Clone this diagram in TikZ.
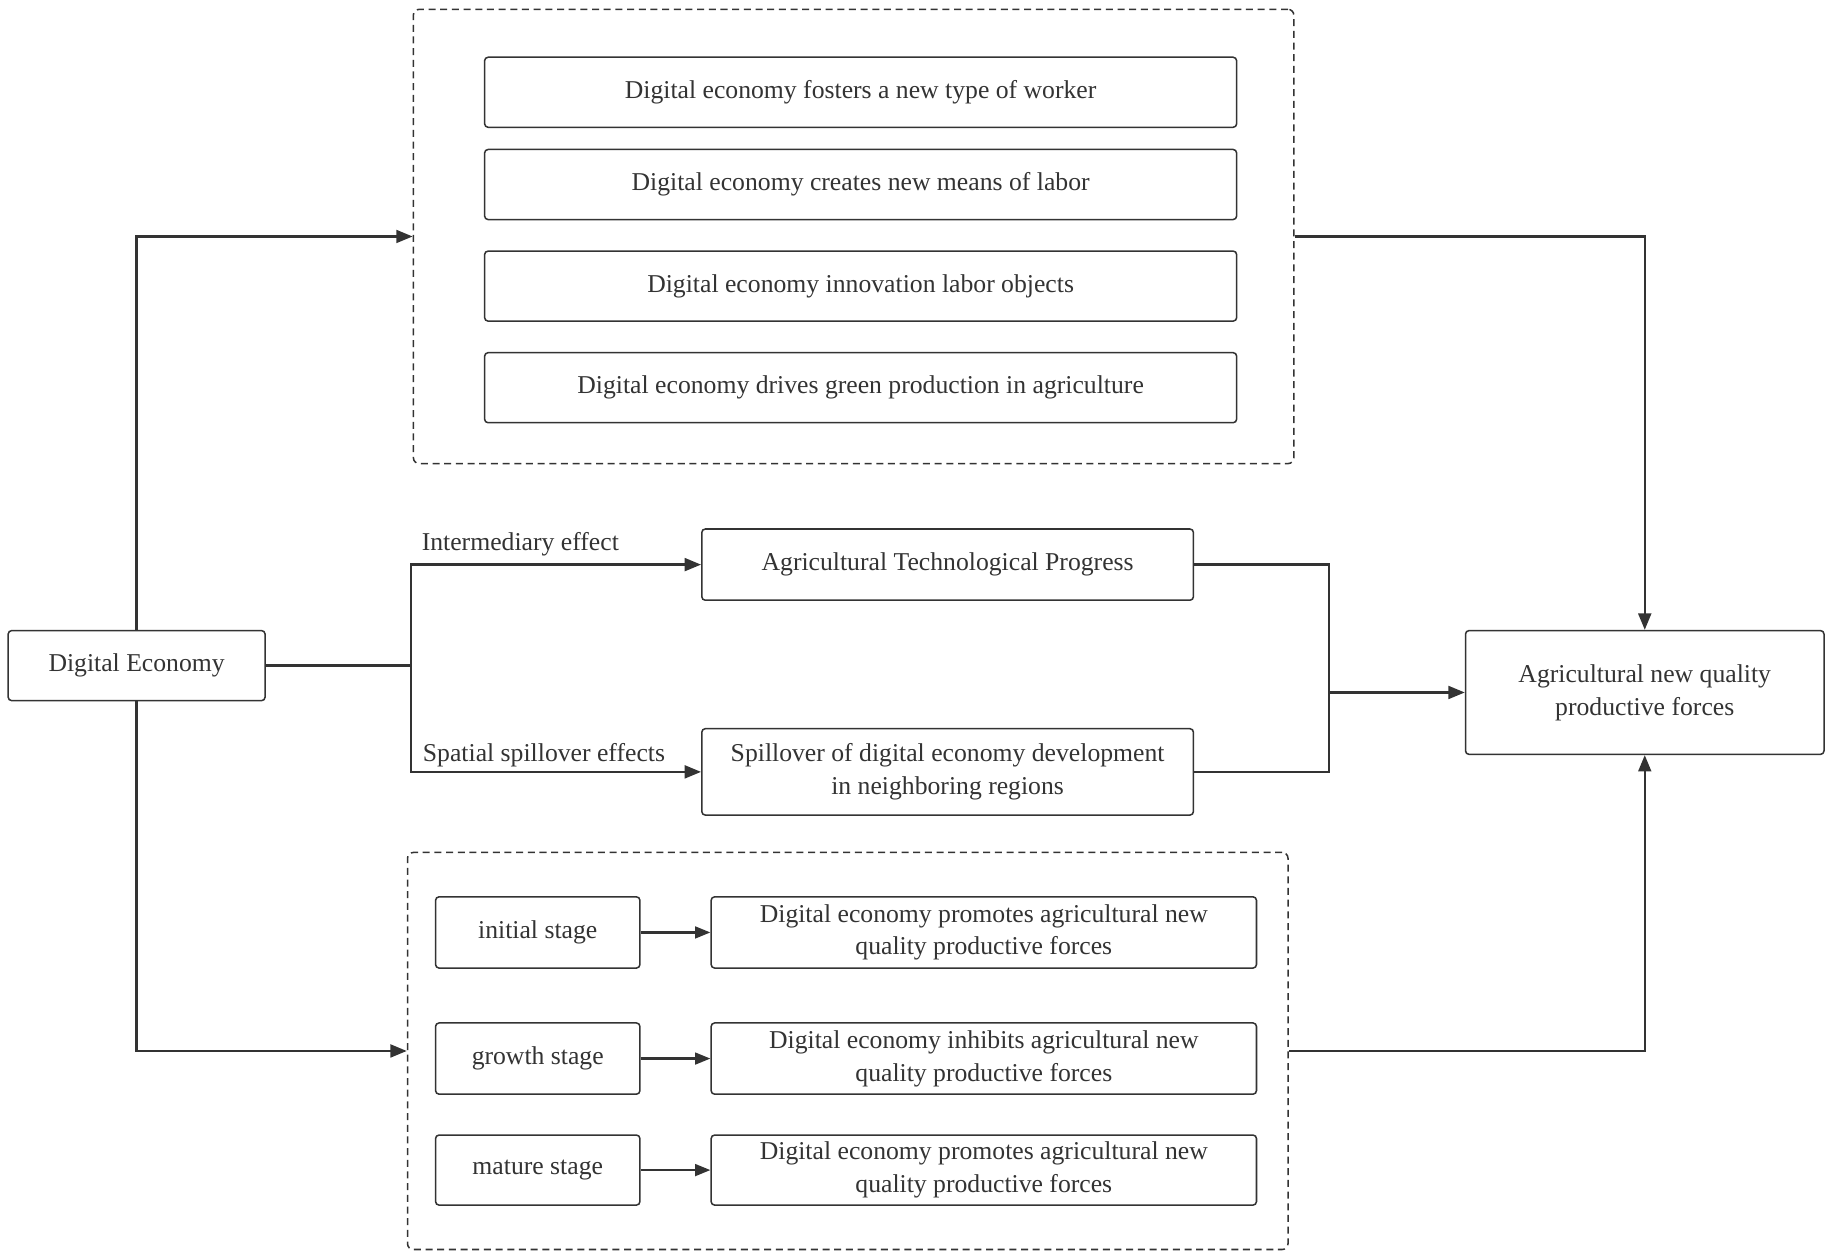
\documentclass[tikz,border=0pt]{standalone}
\usepackage{fontspec}
\setmainfont{Liberation Serif}
\usetikzlibrary{arrows.meta}
\definecolor{ink}{HTML}{333333}
\begin{document}
\begin{tikzpicture}[x=1pt,y=-1pt,
  every node/.style={font=\fontsize{22}{28}\selectfont, text=ink},
  box/.style={draw=ink, line width=1.3pt, rounded corners=3pt, fill=white, align=center, inner sep=0pt},
  dashbox/.style={draw=ink, line width=1.3pt, dash pattern=on 6pt off 4pt, rounded corners=5pt, inner sep=0pt},
  conn/.style={draw=ink, line width=2pt, -{Triangle[length=14pt,width=11pt]}},
  line/.style={draw=ink, line width=2pt},
  small/.style={draw=ink, line width=2pt, -{Triangle[length=13pt,width=10pt]}},
  lbl/.style={anchor=base west, inner sep=0pt}
]
\useasboundingbox (0,0) rectangle (1568,1077);

% top group
\node[dashbox, minimum width=754pt, minimum height=389pt] (dtop) at (731,202.5) {};
\node[box, minimum width=644pt, minimum height=60pt] (b1) at (737,79) {Digital economy fosters a new type of worker};
\node[box, minimum width=644pt, minimum height=60pt] (b2) at (737,158) {Digital economy creates new means of labor};
\node[box, minimum width=644pt, minimum height=60pt] (b3) at (737,245) {Digital economy innovation labor objects};
\node[box, minimum width=644pt, minimum height=60pt] (b4) at (737,332) {Digital economy drives green production in agriculture};

% left and right
\node[box, minimum width=220pt, minimum height=60pt] (de) at (117,570) {Digital Economy};
\node[box, minimum width=307pt, minimum height=106pt] (anq) at (1408.5,593) {Agricultural new quality\\productive forces};

% middle
\node[box, minimum width=421pt, minimum height=61pt] (atp) at (811.5,483.5) {Agricultural Technological Progress};
\node[box, minimum width=421pt, minimum height=74pt] (spill) at (811.5,661) {Spillover of digital economy development\\in neighboring regions};

% bottom group
\node[dashbox, minimum width=754pt, minimum height=340pt] (dbot) at (726,900) {};
\node[box, minimum width=175pt, minimum height=61pt] (s1) at (460.5,798.5) {initial stage};
\node[box, minimum width=467pt, minimum height=61pt] (r1) at (842.5,798.5) {Digital economy promotes agricultural new\\quality productive forces};
\node[box, minimum width=175pt, minimum height=61pt] (s2) at (460.5,906.5) {growth stage};
\node[box, minimum width=467pt, minimum height=61pt] (r2) at (842.5,906.5) {Digital economy inhibits agricultural new\\quality productive forces};
\node[box, minimum width=175pt, minimum height=60pt] (s3) at (460.5,1002) {mature stage};
\node[box, minimum width=467pt, minimum height=60pt] (r3) at (842.5,1002) {Digital economy promotes agricultural new\\quality productive forces};

% coordinates
\coordinate (split) at (352,570);
\coordinate (join) at (1138,593);

% connectors
\draw[conn] (de.north) |- (dtop.west);
\draw[conn] (de.south) |- (dbot.west);
\draw[line] (de.east) -- (split);
\draw[conn] (split) |- (atp.west);
\draw[conn] (split) |- (spill.west);
\draw[line] (atp.east) -| (join);
\draw[line] (spill.east) -| (join);
\draw[conn] (join) -- (anq.west);
\draw[conn] (dtop.east) -| (anq.north);
\draw[conn] (dbot.east) -| (anq.south);
\draw[small] (s1.east) -- (r1.west);
\draw[small] (s2.east) -- (r2.west);
\draw[small] (s3.east) -- (r3.west);

% labels
\node[lbl] (l1) at (361,471) {Intermediary effect};
\node[lbl] (l2) at (362,652) {Spatial spillover effects};
\end{tikzpicture}
\end{document}
